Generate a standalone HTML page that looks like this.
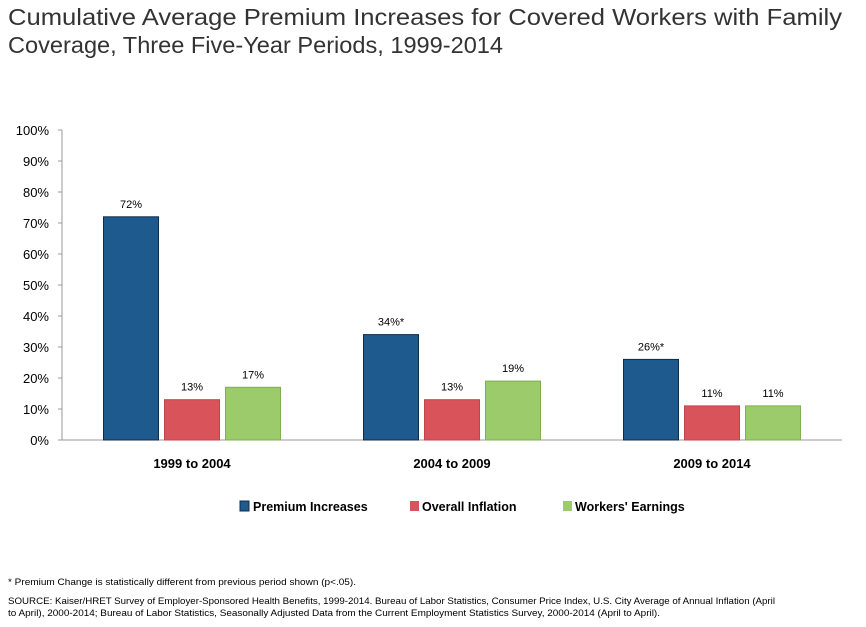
<!DOCTYPE html>
<html><head><meta charset="utf-8"><style>
body{margin:0;background:#fff;width:866px;height:622px;overflow:hidden;font-family:"Liberation Sans",sans-serif;}
</style></head><body>
<svg width="866" height="622">
<text x="8" y="25" font-size="23" fill="#333" textLength="834" lengthAdjust="spacingAndGlyphs">Cumulative Average Premium Increases for Covered Workers with Family</text>
<text x="8" y="53" font-size="23" fill="#333" textLength="495" lengthAdjust="spacingAndGlyphs">Coverage, Three Five-Year Periods, 1999-2014</text>
<g id="axes"></g><g id="bars"></g>
<g font-size="12.5" font-weight="bold" fill="#000">
<rect x="240" y="501" width="9" height="10" fill="#1f5a8f" stroke="#0e2c4a"/>
<text x="253" y="511">Premium Increases</text>
<rect x="410" y="501" width="9" height="10" fill="#d9545a"/>
<text x="422" y="511">Overall Inflation</text>
<rect x="563" y="501" width="9" height="10" fill="#9ccb6b"/>
<text x="575" y="511">Workers' Earnings</text>
</g>
<text x="8" y="585" font-size="9.5" fill="#000" textLength="348" lengthAdjust="spacingAndGlyphs">* Premium Change is statistically different from previous period shown (p&lt;.05).</text>
<text font-size="9.5" fill="#000"><tspan x="8" y="604" textLength="767" lengthAdjust="spacingAndGlyphs">SOURCE:  Kaiser/HRET Survey of Employer-Sponsored Health Benefits, 1999-2014. Bureau of Labor Statistics, Consumer Price Index, U.S. City Average of Annual Inflation (April</tspan><tspan x="8" y="616" textLength="652" lengthAdjust="spacingAndGlyphs">to April), 2000-2014; Bureau of Labor Statistics, Seasonally Adjusted Data from the Current Employment Statistics Survey, 2000-2014 (April to April).</tspan></text>
</svg>
<script>
const categories=["1999 to 2004","2004 to 2009","2009 to 2014"];
const premium=[72,34,26];
const inflation=[13,13,11];
const earnings=[17,19,11];
const premiumLabels=["72%","34%*","26%*"];
const inflationLabels=["13%","13%","11%"];
const earningsLabels=["17%","19%","11%"];
const yTicks=[0,10,20,30,40,50,60,70,80,90,100];
const NS="http://www.w3.org/2000/svg";
const x0=62,x1=842,y0=440,y1=130;
const y=v=>y0-(v/100)*(y0-y1);
const groupW=(x1-x0)/categories.length;
function mk(t,a,p){const e=document.createElementNS(NS,t);for(const k in a)e.setAttribute(k,a[k]);p.appendChild(e);return e;}
const ax=document.getElementById('axes'),bg=document.getElementById('bars');
let l=mk('line',{x1:x0,y1:y0,x2:x1,y2:y0,stroke:'#999'},ax);


l=mk('line',{x1:x0,y1:y1,x2:x0,y2:y0,stroke:'#999'},ax);


yTicks.forEach(v=>{
 mk('line',{x1:x0-4,y1:y(v),x2:x0,y2:y(v),stroke:'#999'},ax);
 const t=mk('text',{x:x0-13,y:y(v)+5,'text-anchor':'end','font-size':13,fill:'#000'},ax);
 t.textContent=v+'%';
 
 
});
const series=[[premium,premiumLabels,'#1f5a8f','#0e2c4a','premium'],[inflation,inflationLabels,'#d9545a','#c04448','inflation'],[earnings,earningsLabels,'#9ccb6b','#7fae52','earnings']];
const bw=55,gap=6;
categories.forEach((c,i)=>{
 const cx=x0+groupW*(i+0.5);
 const start=cx-(3*bw+2*gap)/2;
 series.forEach((s,j)=>{
  const bx=start+j*(bw+gap),v=s[0][i];
  const r=mk('rect',{x:bx,y:y(v),width:bw,height:y0-y(v),fill:s[2],stroke:s[3],'stroke-width':1},bg);
  
  
  const t=mk('text',{x:bx+bw/2,y:y(v)-9,'text-anchor':'middle','font-size':11,fill:'#000'},bg);
  t.textContent=s[1][i];
  
  
 });
 const t=mk('text',{x:cx,y:468,'text-anchor':'middle','font-size':13,'font-weight':'bold',fill:'#000'},ax);
 t.textContent=c;
 
 
});
</script>
</body></html>
